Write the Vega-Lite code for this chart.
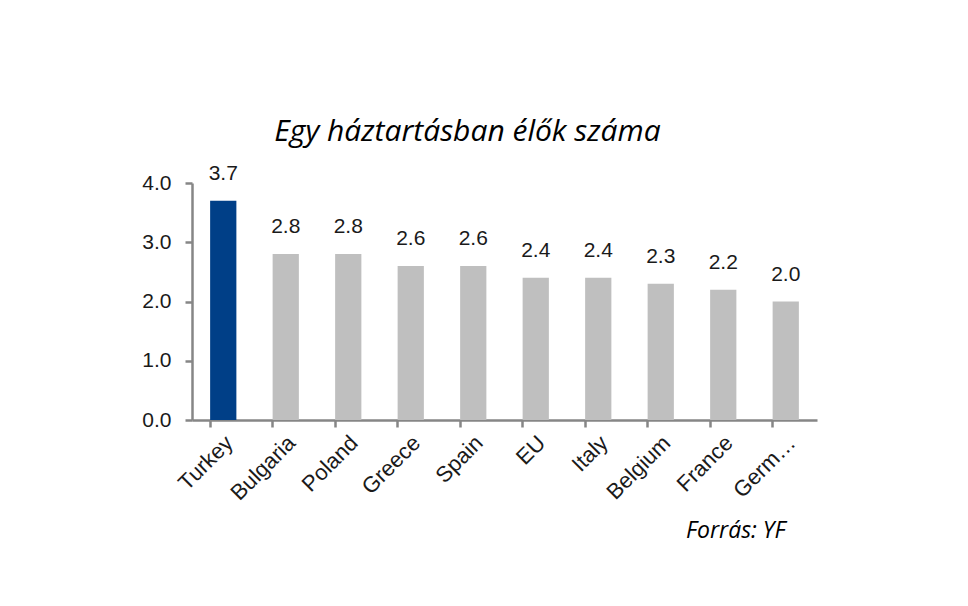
{
  "$schema": "https://vega.github.io/schema/vega-lite/v6.json",
  "autosize": {"type": "none"},
  "padding": {"left": 192, "top": 183, "right": 151, "bottom": 186},
  "width": 625,
  "height": 237,
  "background": "white",
  "title": {
    "text": "Egy háztartásban élők száma",
    "font": "Open Sans",
    "fontStyle": "italic",
    "fontWeight": "normal",
    "fontSize": 30,
    "color": "#000000",
    "anchor": "middle",
    "frame": "group",
    "dx": -37,
    "offset": 16
  },
  "data": {
    "values": [
      {"country": "Turkey", "value": 3.7, "hl": "y"},
      {"country": "Bulgaria", "value": 2.8, "hl": "n"},
      {"country": "Poland", "value": 2.8, "hl": "n"},
      {"country": "Greece", "value": 2.6, "hl": "n"},
      {"country": "Spain", "value": 2.6, "hl": "n"},
      {"country": "EU", "value": 2.4, "hl": "n"},
      {"country": "Italy", "value": 2.4, "hl": "n"},
      {"country": "Belgium", "value": 2.3, "hl": "n"},
      {"country": "France", "value": 2.2, "hl": "n"},
      {"country": "Germany", "value": 2.0, "hl": "n"}
    ]
  },
  "encoding": {
    "x": {
      "field": "country",
      "type": "nominal",
      "sort": null,
      "scale": {"paddingInner": 0.58, "paddingOuter": 0.29},
      "axis": {
        "title": "Forrás: YF",
        "titleFont": "Open Sans",
        "titleFontStyle": "italic",
        "titleFontWeight": "normal",
        "titleFontSize": 23,
        "titleColor": "#000000",
        "titleAnchor": null,
        "titleAlign": "right",
        "titleBaseline": "alphabetic",
        "titleX": 593,
        "titleY": 117,
        "labelAngle": -45,
        "labelAlign": "right",
        "labelBaseline": "middle",
        "labelFont": "Liberation Sans",
        "labelFontSize": 22,
        "labelColor": "#1a1a1a",
        "labelPadding": 12,
        "labelOffset": 6,
        "labelExpr": "datum.value == 'Germany' ? 'Germ…' : datum.value",
        "bandPosition": 0,
        "domainColor": "#868686",
        "domainWidth": 2.5,
        "tickColor": "#868686",
        "tickWidth": 2.5,
        "tickSize": 7,
        "grid": false
      }
    },
    "y": {
      "field": "value",
      "type": "quantitative",
      "scale": {"domain": [0, 4], "nice": false},
      "axis": {
        "title": null,
        "values": [0, 1, 2, 3, 4],
        "format": ".1f",
        "labelFont": "Liberation Sans",
        "labelFontSize": 21,
        "labelColor": "#1a1a1a",
        "labelPadding": 14,
        "domainColor": "#868686",
        "domainWidth": 2.5,
        "tickColor": "#868686",
        "tickWidth": 2.5,
        "tickSize": 7,
        "grid": false
      }
    }
  },
  "layer": [
    {
      "mark": {"type": "bar"},
      "encoding": {
        "color": {
          "field": "hl",
          "type": "nominal",
          "scale": {"domain": ["y", "n"], "range": ["#003F87", "#BFBFBF"]},
          "legend": null
        }
      }
    },
    {
      "mark": {
        "type": "text",
        "font": "Liberation Sans",
        "fontSize": 21,
        "color": "#1a1a1a",
        "baseline": "alphabetic",
        "dy": -21
      },
      "encoding": {
        "text": {"field": "value", "type": "quantitative", "format": ".1f"}
      }
    }
  ],
  "config": {"view": {"stroke": null}}
}
